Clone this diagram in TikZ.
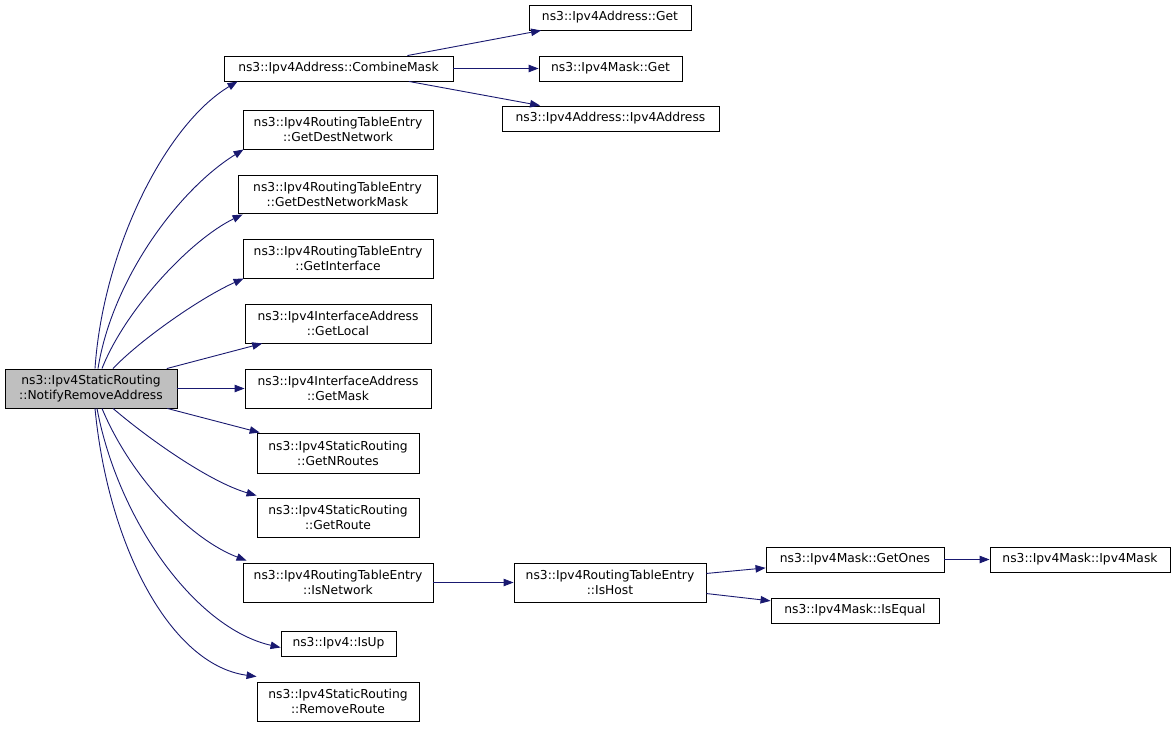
\documentclass[tikz,border=0pt]{standalone}
\usepackage{fontspec}
\setmainfont{DejaVu Sans}
\usetikzlibrary{arrows.meta}
\definecolor{edgecol}{HTML}{191970}
\definecolor{mainfill}{HTML}{BFBFBF}
\begin{document}
\begin{tikzpicture}[x=1pt,y=-1pt,
  box/.style={draw=black,line width=0.9pt,fill=white,inner sep=0pt,align=center,
    font=\fontsize{12.3}{15}\selectfont},
  edge/.style={draw=edgecol,line width=0.9pt,-{Triangle[length=10pt,width=7.5pt]}}]
\useasboundingbox (0,0) rectangle (1176,729);
\node[box,fill=mainfill,minimum width=172,minimum height=39] (main) at (91,388.5) {ns3::Ipv4StaticRouting\\::NotifyRemoveAddress};
\node[box,minimum width=229,minimum height=25] (cm) at (338.5,68.5) {ns3::Ipv4Address::CombineMask};
\node[box,minimum width=162,minimum height=25] (ag) at (610,17.5) {ns3::Ipv4Address::Get};
\node[box,minimum width=143,minimum height=25] (mg) at (610.5,68.5) {ns3::Ipv4Mask::Get};
\node[box,minimum width=217,minimum height=25] (aa) at (610.5,118.5) {ns3::Ipv4Address::Ipv4Address};
\node[box,minimum width=190,minimum height=39] (gdn) at (338,129.5) {ns3::Ipv4RoutingTableEntry\\::GetDestNetwork};
\node[box,minimum width=199,minimum height=38] (gdnm) at (337.5,194) {ns3::Ipv4RoutingTableEntry\\::GetDestNetworkMask};
\node[box,minimum width=190,minimum height=39] (gi) at (338,258.5) {ns3::Ipv4RoutingTableEntry\\::GetInterface};
\node[box,minimum width=186,minimum height=39] (gl) at (338,323.5) {ns3::Ipv4InterfaceAddress\\::GetLocal};
\node[box,minimum width=186,minimum height=39] (gm) at (338,388.5) {ns3::Ipv4InterfaceAddress\\::GetMask};
\node[box,minimum width=162,minimum height=40] (gnr) at (338,453) {ns3::Ipv4StaticRouting\\::GetNRoutes};
\node[box,minimum width=162,minimum height=39] (gr) at (338,517.5) {ns3::Ipv4StaticRouting\\::GetRoute};
\node[box,minimum width=190,minimum height=39] (isn) at (338,582.5) {ns3::Ipv4RoutingTableEntry\\::IsNetwork};
\node[box,minimum width=192,minimum height=39] (ish) at (610,582.5) {ns3::Ipv4RoutingTableEntry\\::IsHost};
\node[box,minimum width=178,minimum height=25] (go) at (855,559.5) {ns3::Ipv4Mask::GetOnes};
\node[box,minimum width=180,minimum height=25] (mm) at (1080,559.5) {ns3::Ipv4Mask::Ipv4Mask};
\node[box,minimum width=168,minimum height=25] (ie) at (855,610.5) {ns3::Ipv4Mask::IsEqual};
\node[box,minimum width=115,minimum height=25] (up) at (338.5,643.5) {ns3::Ipv4::IsUp};
\node[box,minimum width=162,minimum height=39] (rr) at (338,701.5) {ns3::Ipv4StaticRouting\\::RemoveRoute};
% upper fan
\draw[edge] ([xshift=4]main.north) .. controls (103,250) and (165,125) .. ([xshift=14]cm.south west);
\draw[edge] ([xshift=7]main.north) .. controls (112,280) and (178,190) .. ([xshift=1]gdn.south west);
\draw[edge] ([xshift=11]main.north) .. controls (125,310) and (190,240) .. ([xshift=5,yshift=-1]gdnm.south west);
\draw[edge] ([xshift=22]main.north) .. controls (140,340) and (200,298) .. ([xshift=1]gi.south west);
\draw[edge] (main) -- (gl);
\draw[edge] (main) -- (gm);
\draw[edge] (main) -- (gnr);
% lower fan
\draw[edge] ([xshift=22]main.south) .. controls (150,440) and (210,482) .. ([yshift=2]gr.north west);
\draw[edge] ([xshift=11]main.south) .. controls (132,480) and (192,540) .. ([xshift=4,yshift=2]isn.north west);
\draw[edge] ([xshift=6]main.south) .. controls (118,520) and (195,628) .. ([yshift=-4]up.west);
\draw[edge] ([xshift=4]main.south) .. controls (108,545) and (170,665) .. ([yshift=5]rr.north west);
% right part
\draw[edge] (cm) -- (ag);
\draw[edge] (cm) -- (mg);
\draw[edge] (cm) -- (aa);
\draw[edge] (isn) -- (ish);
\draw[edge] (ish) -- (go);
\draw[edge] (ish) -- (ie);
\draw[edge] (go) -- (mm);
\end{tikzpicture}
\end{document}
